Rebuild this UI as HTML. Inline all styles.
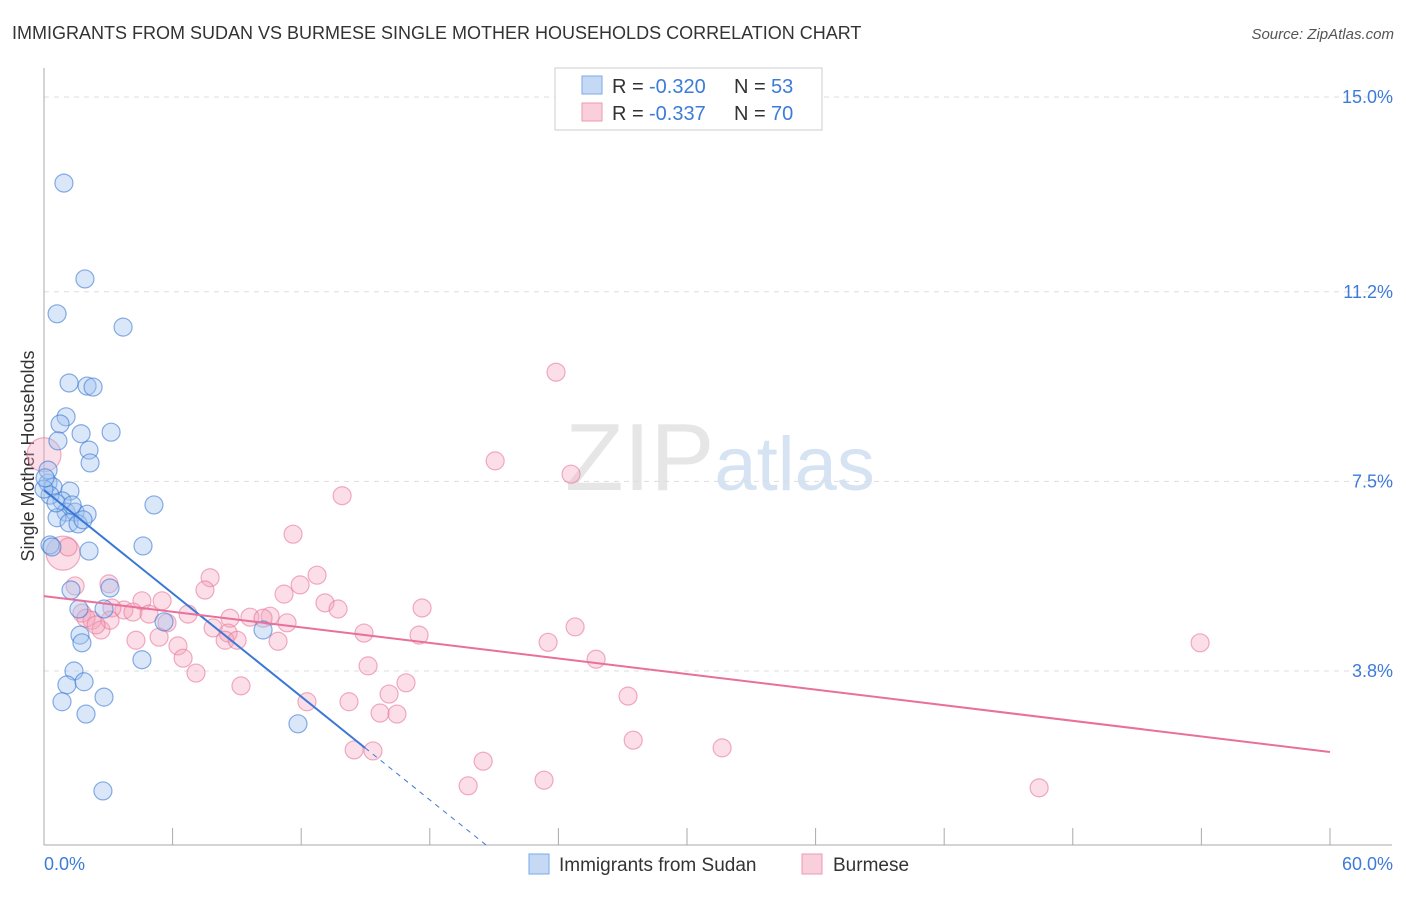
<!DOCTYPE html>
<html><head><meta charset="utf-8"><style>
body{margin:0;background:#fff;font-family:"Liberation Sans",sans-serif;}
svg text{font-family:"Liberation Sans",sans-serif;}
</style></head><body>
<svg id="chart" width="1406" height="892" xmlns="http://www.w3.org/2000/svg">
<text x="12" y="39" font-size="18" fill="#333">IMMIGRANTS FROM SUDAN VS BURMESE SINGLE MOTHER HOUSEHOLDS CORRELATION CHART</text>
<text x="1394" y="39" font-size="15" fill="#555" text-anchor="end" font-style="italic">Source: ZipAtlas.com</text>
<text x="720" y="490" font-size="96" fill="#e6e6e6" text-anchor="middle" font-family="Liberation Serif">ZIP<tspan fill="#d6e3f3" font-family="Liberation Sans" font-size="76">atlas</tspan></text>
<g id="grid"></g>
<g id="axes"></g>
<text transform="translate(34,456) rotate(-90)" font-size="18" fill="#333" text-anchor="middle">Single Mother Households</text>
<g id="marks"></g>
<g id="lines"></g>
<g>
<rect x="555" y="68" width="267" height="62" fill="#fff" stroke="#ccc"/>
<rect x="582" y="76" width="20" height="18" fill="#c5d9f5" stroke="#7aaae8"/>
<rect x="582" y="103" width="20" height="18" fill="#f9cfdc" stroke="#ef9ab5"/>
<text x="612" y="93" font-size="20" fill="#333">R =</text>
<text x="649" y="93" font-size="20" fill="#3d7bd9">-0.320</text>
<text x="734" y="93" font-size="20" fill="#333">N =</text>
<text x="771" y="93" font-size="20" fill="#3d7bd9">53</text>
<text x="612" y="120" font-size="20" fill="#333">R =</text>
<text x="649" y="120" font-size="20" fill="#3d7bd9">-0.337</text>
<text x="734" y="120" font-size="20" fill="#333">N =</text>
<text x="771" y="120" font-size="20" fill="#3d7bd9">70</text>
</g>
<g>
<rect x="529" y="854" width="20" height="20" fill="#c5d9f5" stroke="#7aaae8"/>
<text x="559" y="871" font-size="19" fill="#333">Immigrants from Sudan</text>
<rect x="802" y="854" width="20" height="20" fill="#f9cfdc" stroke="#ef9ab5"/>
<text x="833" y="871" font-size="19" fill="#333">Burmese</text>
</g>
</svg>
<script>
const xTicks=[0,6,12,18,24,30,36,42,48,54,60];
const yTickVals=[15.0,11.2,7.5,3.8];
const yTickLabels=["15.0%","11.2%","7.5%","3.8%"];
const sudanX=[0.93,1.91,0.61,3.69,1.17,2.01,2.29,1.03,0.75,3.13,1.73,0.65,2.10,2.15,0.19,0.42,1.21,0.84,5.13,1.03,1.45,0.61,2.01,1.17,1.59,1.82,4.62,0.28,2.10,0.37,3.08,1.26,1.63,2.80,1.68,1.77,10.22,5.60,4.57,1.40,1.07,1.87,2.80,0.84,1.96,11.85,2.75,0.28,0.0,0.56,1.31,0.19,0.05];
const sudanY=[13.32,11.45,10.77,10.51,9.42,9.36,9.34,8.76,8.62,8.46,8.43,8.29,8.11,7.86,7.47,7.39,7.31,7.12,7.04,6.90,6.90,6.79,6.86,6.69,6.67,6.75,6.24,6.26,6.14,6.22,5.42,5.38,5.01,5.01,4.50,4.35,4.60,4.76,4.02,3.80,3.53,3.59,3.29,3.20,2.96,2.77,1.46,7.23,7.35,7.08,7.04,7.72,7.57];
const burX=[0.0,0.89,23.89,21.05,24.59,13.91,11.62,12.74,7.75,3.03,1.45,11.95,7.51,11.20,4.57,5.51,13.11,13.72,17.64,3.73,4.15,4.90,6.72,10.55,9.61,8.68,10.22,1.77,2.24,1.96,5.74,11.34,24.78,2.66,7.89,8.59,14.93,17.50,5.37,4.29,8.45,10.92,9.01,23.52,6.25,6.49,25.76,53.94,7.09,15.12,16.89,9.19,16.10,12.27,14.23,27.25,15.68,16.47,27.49,31.64,14.47,15.35,20.49,19.79,23.33,46.43,1.12,3.17,3.08,2.43];
const burY=[8.02,6.10,9.63,7.90,7.64,7.22,6.47,5.67,5.62,5.50,5.46,5.48,5.38,5.30,5.17,5.17,5.13,5.01,5.03,4.99,4.95,4.91,4.91,4.87,4.85,4.83,4.83,4.93,4.79,4.83,4.74,4.74,4.66,4.60,4.64,4.54,4.54,4.50,4.46,4.40,4.40,4.38,4.40,4.36,4.29,4.05,4.03,4.35,3.76,3.90,3.57,3.51,3.35,3.20,3.20,3.31,2.98,2.96,2.45,2.30,2.26,2.24,2.04,1.56,1.67,1.52,6.22,5.03,4.79,4.70];
const sudanLine=[7.33,2.30];
const sudanLineEndX=[0,14.98];
const burLine=[5.26,2.22];
const burLineEndX=[0,60];
const X=v=>44+v*21.433, Y=v=>97+(15-v)*51.25;
const NS="http://www.w3.org/2000/svg";
function mk(tag,attrs,parent){const e=document.createElementNS(NS,tag);for(const k in attrs)e.setAttribute(k,attrs[k]);document.getElementById(parent).appendChild(e);return e;}
yTickVals.forEach((v,i)=>{
 const g=mk('line',{x1:44,x2:1392,y1:Y(v),y2:Y(v),stroke:'#ddd','stroke-dasharray':'5,5'},'grid');
 
 
 const t=mk('text',{x:1393,y:Y(v)+6,'font-size':18,fill:'#3d7bd9','text-anchor':'end'},'axes');
 t.textContent=yTickLabels[i];
 
 
});
const ax=mk('line',{x1:44,x2:44,y1:68,y2:845,stroke:'#aaa'},'axes');


const bx=mk('line',{x1:44,x2:1392,y1:845,y2:845,stroke:'#aaa'},'axes');


xTicks.forEach(v=>{
 const t=mk('line',{x1:X(v),x2:X(v),y1:828,y2:845,stroke:'#aaa'},'axes');
 
 
});
const l0=mk('text',{x:44,y:870,'font-size':18,fill:'#3d7bd9'},'axes');l0.textContent="0.0%";


const l1=mk('text',{x:1393,y:870,'font-size':18,fill:'#3d7bd9','text-anchor':'end'},'axes');l1.textContent="60.0%";


burX.forEach((x,i)=>{
 const c=mk('circle',{cx:X(x),cy:Y(burY[i]),r:(i<2?17:9),fill:'rgba(244,160,187,0.35)',stroke:'rgba(232,120,155,0.6)','stroke-width':1.2},'marks');
 
 
});
sudanX.forEach((x,i)=>{
 const c=mk('circle',{cx:X(x),cy:Y(sudanY[i]),r:9,fill:'rgba(160,195,240,0.4)',stroke:'rgba(60,120,210,0.6)','stroke-width':1.2},'marks');
 
 
});
const sa=sudanLine[0], sb=(sudanLine[1]-sudanLine[0])/(sudanLineEndX[1]-sudanLineEndX[0]);
const s1=mk('line',{x1:X(sudanLineEndX[0]),y1:Y(sudanLine[0]),x2:X(sudanLineEndX[1]),y2:Y(sudanLine[1]),stroke:'#3a78d6','stroke-width':2},'lines');


const xe=(0.4-sa)/sb;
const s2=mk('line',{x1:X(sudanLineEndX[1]),y1:Y(sudanLine[1]),x2:X(xe),y2:Y(0.4),stroke:'#3a78d6','stroke-width':1,'stroke-dasharray':'5,5'},'lines');


const p1=mk('line',{x1:X(burLineEndX[0]),y1:Y(burLine[0]),x2:X(burLineEndX[1]),y2:Y(burLine[1]),stroke:'#e8709a','stroke-width':2},'lines');


</script>
</body></html>
